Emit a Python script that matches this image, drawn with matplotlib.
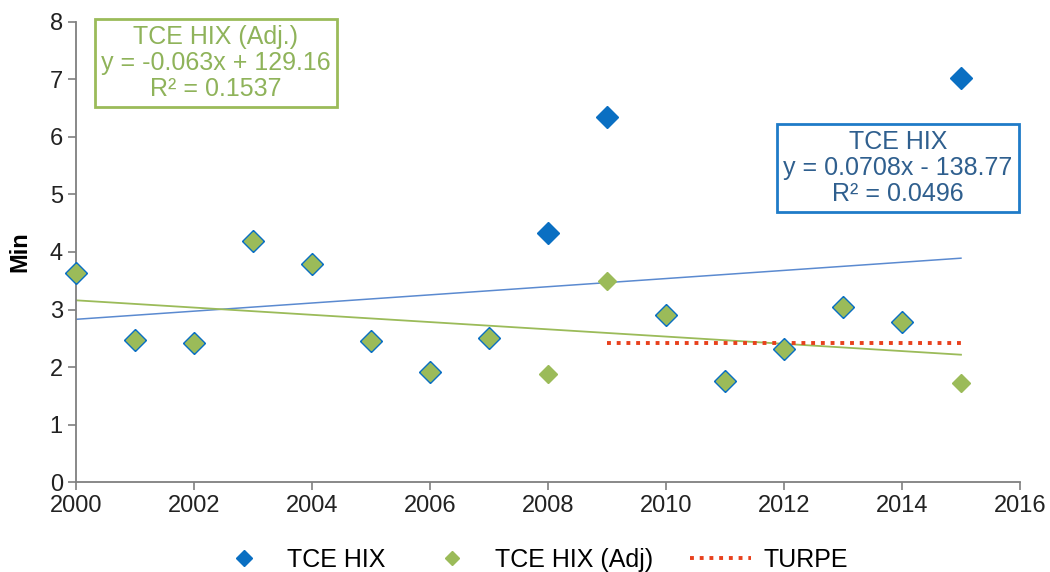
import numpy as np
import matplotlib.pyplot as plt

plt.rcParams['font.family'] = ['Liberation Sans', 'DejaVu Sans']

years = [2000, 2001, 2002, 2003, 2004, 2005, 2006, 2007,
         2008, 2009, 2010, 2011, 2012, 2013, 2014, 2015]
tce_hix = [3.63, 2.47, 2.42, 4.19, 3.79, 2.45, 1.91, 2.50,
           4.33, 6.35, 2.90, 1.76, 2.31, 3.04, 2.78, 7.03]
tce_hix_adj = [3.63, 2.47, 2.42, 4.19, 3.79, 2.45, 1.91, 2.50,
               1.88, 3.50, 2.90, 1.76, 2.31, 3.04, 2.78, 1.72]
turpe_years = [2009, 2010, 2011, 2012, 2013, 2014, 2015]
turpe = [2.42, 2.42, 2.42, 2.42, 2.42, 2.42, 2.42]

# trendline coefficients as printed on the chart
trend_hix = (0.0708, -138.77, 0.0496)
trend_adj = (-0.063, 129.16, 0.1537)

blue = '#0a6fc2'
green = '#9bbb59'

fig = plt.figure(figsize=(10.5, 5.72), dpi=100)
ax = fig.add_axes([0.0724, 0.157, 0.899, 0.805])

x_fit = np.array([years[0], years[-1]])
ax.plot(x_fit, trend_hix[0] * x_fit + trend_hix[1], color='#5b8ad0', lw=1.1, zorder=2)
ax.plot(x_fit, trend_adj[0] * x_fit + trend_adj[1], color=green, lw=1.3, zorder=2)

ax.plot(turpe_years, turpe, linestyle=(0, (1, 1.5)), color='#e8401c', lw=2.8,
        label='TURPE', zorder=3)
ax.plot(years, tce_hix, 'D', ms=10.8, color=blue, mec=blue, lw=0,
        label='TCE HIX', zorder=4, clip_on=False)
ax.plot(years, tce_hix_adj, 'D', ms=8.8, color=green, mec=green, lw=0,
        label='TCE HIX (Adj)', zorder=5, clip_on=False)

ax.set_xlim(2000, 2016)
ax.set_ylim(0, 8)
ax.set_xticks(range(2000, 2017, 2))
ax.set_yticks(range(0, 9))
for s in ['top', 'right']:
    ax.spines[s].set_visible(False)
for s in ['left', 'bottom']:
    ax.spines[s].set_color('#7f7f7f')
    ax.spines[s].set_linewidth(1.3)
ax.tick_params(colors='#7f7f7f', labelcolor='#222222', labelsize=17, length=6, width=1.2)
ax.set_ylabel('Min', fontsize=17, fontweight='bold', labelpad=13)

ax.text(2002.37, 7.28, 'TCE HIX (Adj.)\ny = -0.063x + 129.16\nR² = 0.1537',
        ha='center', va='center', fontsize=18, color='#8fb35a', linespacing=1.1,
        bbox=dict(boxstyle='square,pad=0.25', fc='white', ec=green, lw=2))
ax.text(2013.93, 5.46, 'TCE HIX\ny = 0.0708x - 138.77\nR² = 0.0496',
        ha='center', va='center', fontsize=18, color='#2f5f8e', linespacing=1.1,
        bbox=dict(boxstyle='square,pad=0.25', fc='white', ec='#1f7bc8', lw=2))

handles, labels = ax.get_legend_handles_labels()
order = [1, 2, 0]
fig.legend([handles[i] for i in order], [labels[i] for i in order],
           loc='center left', bbox_to_anchor=(0.203, 0.021), ncol=3, frameon=False,
           fontsize=18, columnspacing=1.45, handlelength=2.45, handletextpad=0.5,
           borderpad=0, borderaxespad=0, markerscale=0.8)

fig.savefig('out.png', dpi=100)
